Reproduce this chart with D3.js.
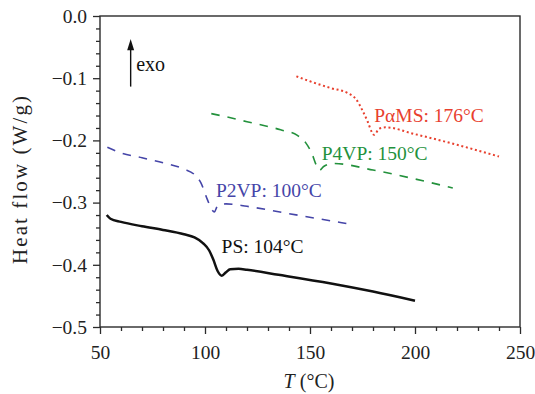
<!DOCTYPE html>
<html>
<head>
<meta charset="utf-8">
<script src="https://cdn.jsdelivr.net/npm/d3@7"></script>
<style>
  html, body { margin: 0; padding: 0; background: #fff; }
  svg { display: block; }
  text { font-family: "Liberation Serif", "Times New Roman", serif; }
</style>
</head>
<body>
<svg id="chart" width="535" height="394"></svg>
<script>
// DSC traces: temperature (°C) and heat flow (W/g)
const psT    = [53.2, 55, 60, 70, 80, 90, 95, 99, 102, 104, 106, 108, 110, 112, 116, 120, 135, 160, 180, 200];
const psHF   = [-0.320, -0.326, -0.331, -0.338, -0.344, -0.351, -0.356, -0.365, -0.377, -0.392, -0.410, -0.4175, -0.412, -0.407, -0.4065, -0.408, -0.416, -0.430, -0.443, -0.4577];

const p2vpT  = [53.5, 60, 70, 80, 90, 95, 98, 101, 103, 104.5, 106, 110, 120, 137, 168];
const p2vpHF = [-0.211, -0.220, -0.228, -0.236, -0.246, -0.255, -0.268, -0.294, -0.310, -0.315, -0.305, -0.302, -0.306, -0.316, -0.334];

const p4vpT  = [103, 110, 120, 136, 144, 148, 151, 153, 154.5, 156.5, 161, 180, 200, 218];
const p4vpHF = [-0.157, -0.162, -0.170, -0.183, -0.192, -0.204, -0.222, -0.240, -0.248, -0.242, -0.237, -0.2476, -0.262, -0.2765];

const pamsT  = [143.5, 150, 160, 168, 172, 175, 177.5, 179.5, 180.5, 183, 186, 200, 220, 240];
const pamsHF = [-0.097, -0.105, -0.116, -0.124, -0.134, -0.152, -0.170, -0.187, -0.191, -0.181, -0.179, -0.190, -0.207, -0.226];

const seriesNames  = ["PS", "P2VP", "P4VP", "PαMS"];
const seriesLabels = ["PS: 104°C", "P2VP: 100°C", "P4VP: 150°C", "PαMS: 176°C"];
// label anchor positions in data units (T, heat flow)
const labelT  = [107.9, 105.2, 155.6, 180.6];
const labelHF = [-0.3805, -0.2905, -0.2315, -0.1700];

const xTicks = [50, 100, 150, 200, 250];
const yTicks = [0.0, -0.1, -0.2, -0.3, -0.4, -0.5];

const svg = d3.select("#chart");
const plot = { left: 100, right: 520, top: 16, bottom: 327 };

const x = d3.scaleLinear().domain([50, 250]).range([plot.left, plot.right]);
const y = d3.scaleLinear().domain([-0.5, 0.0]).range([plot.bottom, plot.top]);

const axisColor = "#2b2b2b";

// frame
svg.append("rect")
  .attr("x", plot.left).attr("y", plot.top)
  .attr("width", plot.right - plot.left).attr("height", plot.bottom - plot.top)
  .attr("fill", "none").attr("stroke", axisColor).attr("stroke-width", 1.4);

// minor ticks
const xMinor = d3.range(50, 251, 10).filter(v => v % 50 !== 0);
const yMinor = d3.range(0, 26).map(i => -i * 0.02).filter((v, i) => i % 5 !== 0);

const xAxisMinor = d3.axisBottom(x).tickValues(xMinor).tickSize(4).tickFormat("");
const yAxisMinor = d3.axisLeft(y).tickValues(yMinor).tickSize(4).tickFormat("");
const xAxis = d3.axisBottom(x).tickValues(xTicks).tickSize(7).tickPadding(6).tickFormat(d3.format("d"));
const yAxis = d3.axisLeft(y).tickValues(yTicks).tickSize(7).tickPadding(6)
  .tickFormat(d => d === 0 ? "0.0" : "\u2212" + d3.format(".1f")(-d));

function styleAxis(g) {
  g.select(".domain").remove();
  g.selectAll("line").attr("stroke", axisColor).attr("stroke-width", 1.3);
  g.selectAll("text").attr("fill", "#222").style("font-size", "19.5px")
    .style("font-family", "'Liberation Serif', serif");
}

svg.append("g").attr("transform", `translate(0,${plot.bottom})`).call(xAxisMinor).call(styleAxis);
svg.append("g").attr("transform", `translate(${plot.left},0)`).call(yAxisMinor).call(styleAxis);
const gx = svg.append("g").attr("transform", `translate(0,${plot.bottom})`).call(xAxis).call(styleAxis);
const gy = svg.append("g").attr("transform", `translate(${plot.left},0)`).call(yAxis).call(styleAxis);
gx.selectAll("text").attr("dy", "0.95em");

// axis titles
svg.append("text")
  .attr("x", 309).attr("y", 388)
  .attr("text-anchor", "middle")
  .style("font-size", "20px").attr("fill", "#222")
  .html('<tspan font-style="italic">T</tspan> (°C)');

svg.append("text")
  .attr("transform", "translate(27,180) rotate(-90)")
  .attr("text-anchor", "middle")
  .style("font-size", "21px").attr("fill", "#222")
  .attr("textLength", 168).attr("lengthAdjust", "spacing")
  .text("Heat flow (W/g)");

// curves
const line = d3.line()
  .x(d => x(d[0]))
  .y(d => y(d[1]))
  .curve(d3.curveMonotoneX);

const traces = [
  { T: psT,   HF: psHF,   color: "#111111", width: 2.5, dash: null },
  { T: p2vpT, HF: p2vpHF, color: "#4545a8", width: 1.6, dash: "8.5,8" },
  { T: p4vpT, HF: p4vpHF, color: "#23913c", width: 1.6, dash: "8.5,8" },
  { T: pamsT, HF: pamsHF, color: "#e8402e", width: 2.0, dash: "2,2.7" }
];

traces.forEach((tr, i) => {
  const pts = tr.T.map((t, j) => [t, tr.HF[j]]);
  svg.append("path")
    .datum(pts)
    .attr("class", "trace-" + seriesNames[i])
    .attr("d", line)
    .attr("fill", "none")
    .attr("stroke", tr.color)
    .attr("stroke-width", tr.width)
    .attr("stroke-linejoin", "round")
    .attr("stroke-dasharray", tr.dash);
});

// glass-transition labels
seriesLabels.forEach((lab, i) => {
  svg.append("text")
    .attr("x", x(labelT[i])).attr("y", y(labelHF[i]))
    .style("font-size", "19.5px")
    .attr("fill", traces[i].color === "#111111" ? "#111" : traces[i].color)
    .text(lab);
});

// exotherm direction marker
const arrowX = x(64.6);
svg.append("line")
  .attr("x1", arrowX).attr("x2", arrowX)
  .attr("y1", y(-0.1135)).attr("y2", y(-0.052))
  .attr("stroke", "#111").attr("stroke-width", 1.4);
svg.append("path")
  .attr("d", d3.line()([[arrowX, y(-0.037)], [arrowX - 3.5, y(-0.055)], [arrowX + 3.5, y(-0.055)]]) + "Z")
  .attr("fill", "#111");
svg.append("text")
  .attr("x", arrowX + 5.5).attr("y", y(-0.088))
  .style("font-size", "20px").attr("fill", "#111")
  .text("exo");
</script>
</body>
</html>
